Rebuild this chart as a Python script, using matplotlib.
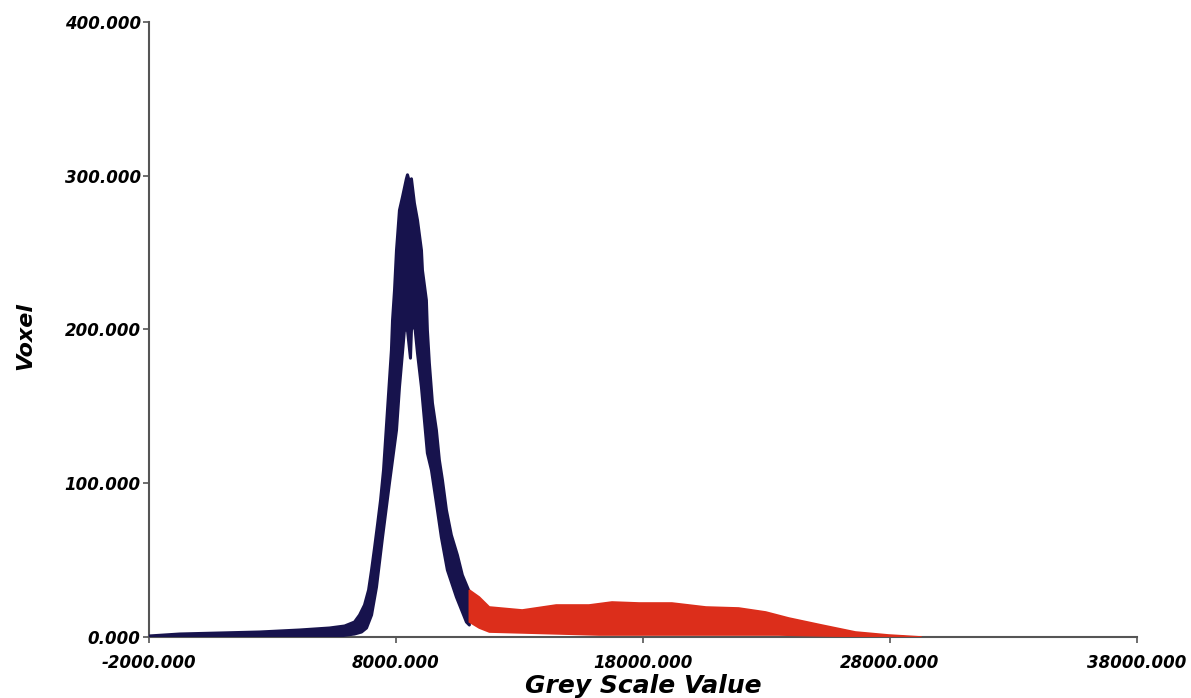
import numpy as np
import matplotlib.pyplot as plt

# histogram of grey values, read off the picture as the upper / lower edge
# of the noisy band (voxel counts per grey value)

# part below the threshold (dark blue)
dark_hi_x = [-2000, -750, 870, 2480, 4100, 5310, 5920, 6320, 6525, 6725,
             6890, 7010, 7130, 7250, 7375, 7495, 7575, 7655, 7735, 7815,
             7860, 7940, 8020, 8060, 8140, 8260, 8420, 8465, 8545, 8625,
             8745, 8870, 9030, 9070, 9230, 9270, 9350, 9475, 9635, 9755,
             9880, 10040, 10240, 10485, 10685, 10970]
dark_hi_y = [650, 1950, 2600, 3250, 4550, 5850, 7150, 9750, 14300, 20800,
             30550, 43550, 57850, 72800, 89050, 108550, 128050, 147550, 167050, 186550,
             206050, 225550, 251550, 260000, 277550, 286000, 298000, 300600, 296050, 298000,
             282100, 271050, 251550, 238550, 219050, 199550, 178100, 152100, 134550, 115050,
             102050, 82550, 66300, 53300, 40300, 29250]

dark_lo_x = [-2000, 2080, 5715, 6320, 6605, 6805, 7010, 7210, 7455, 7735,
             8020, 8140, 8260, 8340, 8465, 8585, 8625, 8745, 8870, 9030,
             9150, 9270, 9435, 9635, 9835, 10080, 10445, 10850, 10970]
dark_lo_y = [0, 0, 650, 1950, 3250, 5850, 14300, 32500, 65000, 100100,
             134550, 162500, 184600, 199550, 199550, 181350, 199550, 204750, 184600, 162500,
             141050, 119600, 108550, 87100, 65000, 43550, 26000, 9750, 7800]

# part above the threshold (red)
red_hi_x = [10970, 11370, 11780, 13110, 14485, 15815, 16745, 17840, 19170, 20545,
            21875, 22970, 23900, 25230, 26600, 27940, 29270]
red_hi_y = [30550, 26000, 19500, 17550, 20800, 20800, 22750, 22100, 22100, 19500,
            18850, 16250, 12350, 7800, 3250, 1300, 0]

red_lo_x = [10970, 11370, 11780, 16220, 23490, 25510, 29270]
red_lo_y = [9750, 5850, 3250, 1300, 1300, 650, 0]

x_ticks = [-2000, 8000, 18000, 28000, 38000]
x_tick_labels = ["-2000.000", "8000.000", "18000.000", "28000.000", "38000.000"]
y_ticks = [0, 100000, 200000, 300000, 400000]
y_tick_labels = ["0.000", "100.000", "200.000", "300.000", "400.000"]

DARK = "#17134d"
RED = "#dc2e1b"
AXIS = "#555555"
FONT = "DejaVu Sans"

fig = plt.figure(figsize=(11.91, 6.98), dpi=100)
ax = fig.add_axes([0.1251, 0.0874, 0.8296, 0.8811])

# noisy band = polygon along the upper edge and back along the lower edge
ax.fill(np.concatenate([dark_hi_x, dark_lo_x[::-1]]),
        np.concatenate([dark_hi_y, dark_lo_y[::-1]]),
        color=DARK, lw=2.2, joinstyle="round", zorder=3)
ax.fill(np.concatenate([red_hi_x, red_lo_x[::-1]]),
        np.concatenate([red_hi_y, red_lo_y[::-1]]),
        color=RED, lw=1.2, zorder=3)

ax.set_xlim(-2000, 38000)
ax.set_ylim(0, 400000)

ax.set_xticks(x_ticks)
ax.set_xticklabels(x_tick_labels)
ax.set_yticks(y_ticks)
ax.set_yticklabels(y_tick_labels)

for lab in ax.get_xticklabels() + ax.get_yticklabels():
    lab.set_fontfamily(FONT)
    lab.set_fontweight("bold")
    lab.set_fontstyle("italic")
    lab.set_fontsize(12)

ax.tick_params(axis="both", direction="out", length=4, width=1.2, color=AXIS)
ax.tick_params(axis="x", pad=8)
ax.tick_params(axis="y", pad=2)

for side in ["top", "right"]:
    ax.spines[side].set_visible(False)
for side in ["left", "bottom"]:
    ax.spines[side].set_color(AXIS)
    ax.spines[side].set_linewidth(1.5)

ax.set_xlabel("Grey Scale Value", fontfamily=FONT, fontweight="bold",
              fontstyle="italic", fontsize=18, labelpad=2)
ax.set_ylabel("Voxel", fontfamily=FONT, fontweight="bold",
              fontstyle="italic", fontsize=16)
ax.yaxis.set_label_coords(-0.115, 0.49)

plt.savefig("out.png", dpi=100)
plt.close()
